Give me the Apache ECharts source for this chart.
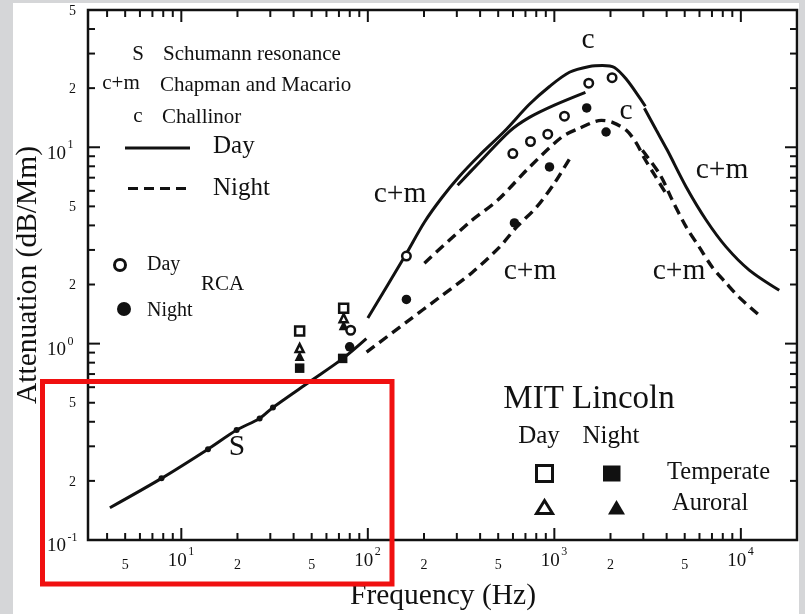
<!DOCTYPE html>
<html>
<head>
<meta charset="utf-8">
<script src="https://cdn.jsdelivr.net/npm/echarts@6/dist/echarts.min.js"></script>
<style>
  html, body { margin: 0; padding: 0; background: #fff; }
  #main { width: 805px; height: 614px; }
</style>
</head>
<body>
<div id="main"></div>
<script>
const X_MIN = 3.16, X_MAX = 20000, Y_MIN = 0.1, Y_MAX = 50;

// Schumann resonance curve and its resonance dots
const sFreq = [4.14, 7.83, 13.9, 19.8, 26.3, 31.0, 48.7, 73.6, 98.2];
const sAtten = [0.146, 0.206, 0.290, 0.363, 0.416, 0.473, 0.639, 0.841, 1.06];
const schumannFreq = [7.83, 13.9, 19.8, 26.3, 31.0];
const schumannAtten = [0.206, 0.290, 0.363, 0.416, 0.473];

// day curves (solid)
const dayPeakFreq = [100, 157, 201, 248, 310, 397, 540, 735, 942, 1205, 1542, 1810, 2099, 2433, 2857, 3076];
const dayPeakAtten = [1.35, 2.76, 4.15, 5.50, 7.12, 9.11, 12.06, 16.55, 20.4, 24.1, 25.8, 26.1, 25.5, 22.2, 17.97, 16.17];
const dayShortFreq = [303, 397, 575, 735, 1001, 1468];
const dayShortAtten = [6.41, 8.39, 12.06, 14.2, 16.4, 19.05];
const dayHighFreq = [3039, 3524, 4036, 5100, 6526, 8353, 11090, 16060];
const dayHighAtten = [15.8, 12.2, 9.65, 6.26, 4.25, 3.10, 2.37, 1.87];

// night curves (dashed)
const nightCFreq = [201, 351, 496, 735, 1092, 1363, 1788, 2048, 2433, 2753, 3039, 3479, 3986];
const nightCAtten = [2.57, 4.15, 5.37, 7.91, 11.24, 12.5, 13.7, 13.4, 12.2, 10.5, 8.79, 7.12, 5.77];
const nightLowFreq = [98.5, 161, 242, 364, 508, 627, 802, 1001, 1220];
const nightLowAtten = [0.905, 1.287, 1.72, 2.31, 3.10, 3.92, 4.95, 6.56, 8.89];
const nightHighFreq = [2965, 3701, 4292, 5100, 5986, 7028, 8353, 9804, 12700];
const nightHighAtten = [9.65, 7.20, 5.37, 3.92, 3.10, 2.45, 2.03, 1.72, 1.38];

// RCA measurements
const rcaDayFreq = [80.9, 161, 599, 745, 922, 1133, 1529, 2040];
const rcaDayAtten = [1.17, 2.79, 9.29, 10.7, 11.65, 14.4, 21.2, 22.6];
const rcaNightFreq = [79.9, 161, 611, 942, 1491, 1894];
const rcaNightAtten = [0.963, 1.68, 4.12, 7.94, 15.85, 11.96];

// MIT Lincoln measurements
const mitDayTempFreq = [43.1, 74.2];
const mitDayTempAtten = [1.158, 1.516];
const mitNightTempFreq = [43.1, 73.3];
const mitNightTempAtten = [0.750, 0.841];
const mitDayAurFreq = [43.1, 74.2];
const mitDayAurAtten = [0.949, 1.348];
const mitNightAurFreq = [43.1, 74.2];
const mitNightAurAtten = [0.864, 1.242];

// ticks and tick labels
const xMajorTicks = [10, 100, 1000, 10000];
const xMinorTicks = [4, 5, 6, 7, 8, 9, 20, 30, 40, 50, 60, 70, 80, 90,
  200, 300, 400, 500, 600, 700, 800, 900, 2000, 3000, 4000, 5000, 6000, 7000, 8000, 9000];
const yMajorTicks = [1, 10];
const yMinorTicks = [0.2, 0.3, 0.4, 0.5, 0.6, 0.7, 0.8, 0.9, 2, 3, 4, 5, 6, 7, 8, 9, 20, 30, 40];
const xLabelVals = [5, 10, 20, 50, 100, 200, 500, 1000, 2000, 5000, 10000];
const xLabelMain = ['5', '10', '2', '5', '10', '2', '5', '10', '2', '5', '10'];
const xLabelSup = ['', '1', '', '', '2', '', '', '3', '', '', '4'];
const yLabelVals = [0.1, 0.2, 0.5, 1, 2, 5, 10, 20, 50];
const yLabelMain = ['10', '2', '5', '10', '2', '5', '10', '2', '5'];
const yLabelSup = ['-1', '', '', '0', '', '', '1', '', ''];

const serif = '"Liberation Serif", "Times New Roman", serif';
const ink = '#111';
const pairs = (xs, ys) => xs.map((x, i) => [x, ys[i]]);

function txt(x, y, text, size, align) {
  align = align || 'left';
  return {
    type: 'text', x: x, y: y, z: 50,
    style: { text: text, font: size + 'px ' + serif, fill: ink,
      align: align, verticalAlign: 'middle', textAlign: align, textVerticalAlign: 'middle' }
  };
}

function lineSeries(xs, ys, dashed) {
  return {
    type: 'line', data: pairs(xs, ys), symbol: 'none', smooth: 0.3, z: 3,
    lineStyle: { color: ink, width: dashed ? 3.4 : 3, type: dashed ? [10, 6] : 'solid', opacity: 1 }
  };
}

function markerSeries(xs, ys, symbol, size, open) {
  return {
    type: 'scatter', data: pairs(xs, ys), symbol: symbol, symbolSize: size, z: open ? 6 : 5,
    itemStyle: open ? { color: '#fff', borderColor: ink, borderWidth: 2.5, opacity: 1 } : { color: ink, opacity: 1 }
  };
}

const myChart = echarts.init(document.getElementById('main'));

const option = {
  animation: false,
  backgroundColor: '#d5d6d8',
  grid: { left: 88, right: 8, top: 10, bottom: 74, show: true, borderColor: ink, borderWidth: 2.5 },
  xAxis: {
    type: 'log', logBase: 10, min: X_MIN, max: X_MAX,
    axisLine: { show: false }, axisTick: { show: false }, axisLabel: { show: false }, splitLine: { show: false }
  },
  yAxis: {
    type: 'log', logBase: 10, min: Y_MIN, max: Y_MAX,
    axisLine: { show: false }, axisTick: { show: false }, axisLabel: { show: false }, splitLine: { show: false }
  },
  graphic: [
    // page panel and gray frame
    { type: 'rect', z: -10, shape: { x: 13, y: 3, width: 786, height: 611 }, style: { fill: '#fff' } },
    // axis titles
    txt(443, 596, 'Frequency (Hz)', 29.5, 'center'),
    Object.assign(txt(28, 275, 'Attenuation (dB/Mm)', 29.5, 'center'), { rotation: Math.PI / 2 }),
    // key, top left
    txt(138, 54, 'S', 21, 'center'),
    txt(163, 54, 'Schumann resonance', 21),
    txt(121, 83, 'c+m', 21, 'center'),
    txt(160, 85, 'Chapman and Macario', 21),
    txt(138, 116, 'c', 21, 'center'),
    txt(162, 117, 'Challinor', 21),
    { type: 'line', z: 50, shape: { x1: 125, y1: 148, x2: 190, y2: 148 }, style: { stroke: ink, lineWidth: 3 } },
    txt(213, 146, 'Day', 25),
    { type: 'line', z: 50, shape: { x1: 128, y1: 188.5, x2: 186, y2: 188.5 }, style: { stroke: ink, lineWidth: 3, lineDash: [10, 6] } },
    txt(213, 188, 'Night', 25),
    // RCA key
    { type: 'circle', z: 50, shape: { cx: 120, cy: 265, r: 5.5 }, style: { fill: '#fff', stroke: ink, lineWidth: 3 } },
    txt(147, 265, 'Day', 20),
    txt(201, 284, 'RCA', 21),
    { type: 'circle', z: 50, shape: { cx: 124, cy: 309, r: 7 }, style: { fill: ink } },
    txt(147, 311, 'Night', 20),
    // curve labels
    txt(588, 40, 'c', 29.5, 'center'),
    txt(626, 111, 'c', 29.5, 'center'),
    txt(400, 194, 'c+m', 29.5, 'center'),
    txt(530, 271, 'c+m', 29.5, 'center'),
    txt(722, 170, 'c+m', 29.5, 'center'),
    txt(679, 271, 'c+m', 29.5, 'center'),
    txt(237, 447, 'S', 29.5, 'center'),
    // MIT Lincoln key
    txt(589, 399, 'MIT Lincoln', 33, 'center'),
    txt(539, 436, 'Day', 25, 'center'),
    txt(611, 436, 'Night', 25, 'center'),
    { type: 'rect', z: 50, shape: { x: 536.5, y: 465.5, width: 16, height: 16 }, style: { fill: '#fff', stroke: ink, lineWidth: 3 } },
    { type: 'rect', z: 50, shape: { x: 603, y: 465.5, width: 17.5, height: 16 }, style: { fill: ink } },
    { type: 'polygon', z: 50, shape: { points: [[544.5, 500.5], [552.5, 513.5], [536.5, 513.5]] }, style: { fill: '#fff', stroke: ink, lineWidth: 3 } },
    { type: 'polygon', z: 50, shape: { points: [[616.5, 500], [625, 514.5], [608, 514.5]] }, style: { fill: ink } },
    txt(667, 473, 'Temperate', 24.5),
    txt(672, 503.5, 'Auroral', 24.5),
    // highlight box
    { type: 'rect', z: 100, shape: { x: 42.5, y: 381.5, width: 349.5, height: 202.5 }, style: { fill: 'none', stroke: '#f01010', lineWidth: 5 } }
  ],
  series: [
    // x ticks, bottom and top, pointing inward
    {
      type: 'custom', z: 8, silent: true,
      data: xMajorTicks.concat(xMinorTicks).map(v => [v, Y_MIN]),
      renderItem: function (params, api) {
        const v = api.value(0);
        const len = xMajorTicks.includes(v) ? 12 : 7;
        const x = api.coord([v, Y_MIN])[0];
        const cs = params.coordSys;
        const bottom = cs.y + cs.height, top = cs.y;
        const st = { stroke: ink, lineWidth: 2 };
        return { type: 'group', children: [
          { type: 'line', shape: { x1: x, y1: bottom, x2: x, y2: bottom - len }, style: st },
          { type: 'line', shape: { x1: x, y1: top, x2: x, y2: top + len }, style: st }
        ] };
      }
    },
    // y ticks, left and right
    {
      type: 'custom', z: 8, silent: true,
      data: yMajorTicks.concat(yMinorTicks).map(v => [X_MIN, v]),
      renderItem: function (params, api) {
        const v = api.value(1);
        const len = yMajorTicks.includes(v) ? 12 : 7;
        const y = api.coord([X_MIN, v])[1];
        const cs = params.coordSys;
        const left = cs.x, right = cs.x + cs.width;
        const st = { stroke: ink, lineWidth: 2 };
        return { type: 'group', children: [
          { type: 'line', shape: { x1: left, y1: y, x2: left + len, y2: y }, style: st },
          { type: 'line', shape: { x1: right, y1: y, x2: right - len, y2: y }, style: st }
        ] };
      }
    },
    // x tick labels
    {
      type: 'custom', z: 8, silent: true, clip: false,
      data: xLabelVals.map(v => [v, Y_MIN]),
      renderItem: function (params, api) {
        const i = params.dataIndex;
        const x = api.coord([xLabelVals[i], Y_MIN])[0];
        const base = params.coordSys.y + params.coordSys.height;
        if (xLabelSup[i]) {
          return { type: 'group', children: [
            txt(x - 4, base + 21.5, xLabelMain[i], 19, 'center'),
            txt(x + 7, base + 12, xLabelSup[i], 12)
          ] };
        }
        return txt(x, base + 25, xLabelMain[i], 14, 'center');
      }
    },
    // y tick labels
    {
      type: 'custom', z: 8, silent: true, clip: false,
      data: yLabelVals.map(v => [X_MIN, v]),
      renderItem: function (params, api) {
        const i = params.dataIndex;
        const y = api.coord([X_MIN, yLabelVals[i]])[1];
        const left = params.coordSys.x;
        if (yLabelSup[i]) {
          return { type: 'group', children: [
            txt(left - 22, y + 6.5, yLabelMain[i], 19, 'right'),
            txt(left - 20.5, y - 2, yLabelSup[i], 12)
          ] };
        }
        return txt(left - 15.5, y + 1, yLabelMain[i], 14, 'center');
      }
    },
    lineSeries(sFreq, sAtten, false),
    lineSeries(dayPeakFreq, dayPeakAtten, false),
    lineSeries(dayShortFreq, dayShortAtten, false),
    lineSeries(dayHighFreq, dayHighAtten, false),
    lineSeries(nightCFreq, nightCAtten, true),
    lineSeries(nightLowFreq, nightLowAtten, true),
    lineSeries(nightHighFreq, nightHighAtten, true),
    markerSeries(schumannFreq, schumannAtten, 'circle', 6, false),
    markerSeries(rcaDayFreq, rcaDayAtten, 'circle', 8.5, true),
    markerSeries(rcaNightFreq, rcaNightAtten, 'circle', 9.5, false),
    markerSeries(mitNightAurFreq, mitNightAurAtten, 'triangle', 10, false),
    markerSeries(mitDayAurFreq, mitDayAurAtten, 'triangle', 8, true),
    markerSeries(mitDayTempFreq, mitDayTempAtten, 'rect', 9, true),
    markerSeries(mitNightTempFreq, mitNightTempAtten, 'rect', 9.5, false)
  ]
};

option && myChart.setOption(option);
</script>
</body>
</html>
